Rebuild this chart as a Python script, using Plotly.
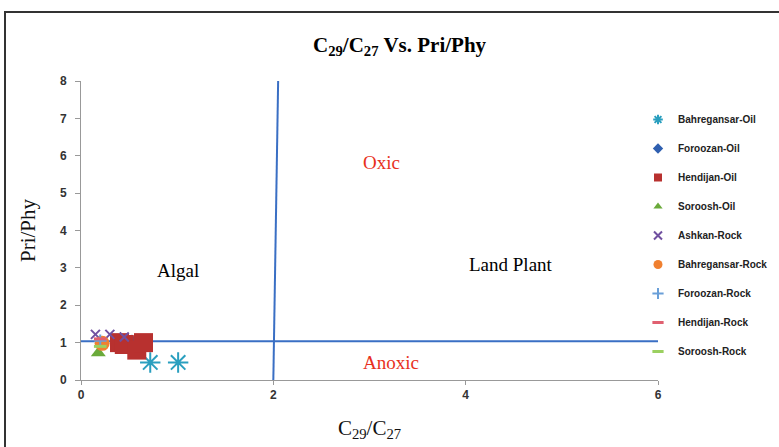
import plotly.graph_objects as go

# Data (C29/C27, Pri/Phy)
series_names = ["Bahregansar-Oil", "Foroozan-Oil", "Hendijan-Oil", "Soroosh-Oil",
                "Ashkan-Rock", "Bahregansar-Rock", "Foroozan-Rock", "Hendijan-Rock", "Soroosh-Rock"]
bahregansar_oil_x = [0.72, 1.01]
bahregansar_oil_y = [0.47, 0.47]
foroozan_oil_x = [0.53]
foroozan_oil_y = [1.08]
hendijan_oil_x = [0.40, 0.45, 0.58, 0.65]
hendijan_oil_y = [1.0, 0.95, 0.8, 1.0]
soroosh_oil_x = [0.18]
soroosh_oil_y = [0.72]
ashkan_rock_x = [0.15, 0.30, 0.45]
ashkan_rock_y = [1.22, 1.22, 1.15]
bahregansar_rock_x = [0.22]
bahregansar_rock_y = [0.98]
foroozan_rock_x = [0.20]
foroozan_rock_y = [1.05]
hendijan_rock_x = [0.20]
hendijan_rock_y = [1.1]
soroosh_rock_x = [0.20]
soroosh_rock_y = [0.9]

# boundary lines
hline_x = [0, 6]
hline_y = [1.04, 1.04]
vline_x = [2.0, 2.05]
vline_y = [0, 8]

xs = [bahregansar_oil_x, foroozan_oil_x, hendijan_oil_x, soroosh_oil_x, ashkan_rock_x,
      bahregansar_rock_x, foroozan_rock_x, hendijan_rock_x, soroosh_rock_x]
ys = [bahregansar_oil_y, foroozan_oil_y, hendijan_oil_y, soroosh_oil_y, ashkan_rock_y,
      bahregansar_rock_y, foroozan_rock_y, hendijan_rock_y, soroosh_rock_y]
symbols = ["asterisk-open", "diamond", "square", "triangle-up", "x-thin-open",
           "circle", "cross-thin-open", "line-ew-open", "line-ew-open"]
colors = ["#2a9fbf", "#2f5fb0", "#b8312f", "#6aaa3a", "#7050a0",
          "#f08030", "#6a9fd8", "#e06070", "#9bd060"]
plot_sizes = [17, 8, 19, 13, 9, 15, 9, 9, 9]
legend_sizes = [8, 8, 8, 8, 8, 9, 8, 8, 8]

fig = go.Figure()
fig.add_trace(go.Scatter(x=hline_x, y=hline_y, mode="lines", line=dict(color="#3a6fc4", width=2),
                         showlegend=False, hoverinfo="skip"))
fig.add_trace(go.Scatter(x=vline_x, y=vline_y, mode="lines", line=dict(color="#3a6fc4", width=2),
                         showlegend=False, hoverinfo="skip"))
for i, (name, x, y) in enumerate(zip(series_names, xs, ys)):
    sym, col = symbols[i], colors[i]
    open_sym = sym.endswith("-open")
    mk = dict(symbol=sym, color=col, size=plot_sizes[i])
    if open_sym:
        mk["line"] = dict(width=2 if "line-ew" not in sym else 3, color=col)
    fig.add_trace(go.Scatter(x=x, y=y, mode="markers", name=name, marker=mk,
                             showlegend=False, legendgroup=f"g{i}"))
    lmk = dict(symbol=sym, color=col, size=legend_sizes[i])
    if open_sym:
        lmk["line"] = dict(width=2 if "line-ew" not in sym else 3, color=col)
    fig.add_trace(go.Scatter(x=[None], y=[None], mode="markers", name=name, marker=lmk,
                             showlegend=True, legendgroup=f"g{i}"))

serif = "Liberation Serif"
ann = [
    dict(x=3.12, y=5.83, text="Oxic", color="#e8301c"),
    dict(x=1.01, y=2.94, text="Algal", color="#000000"),
    dict(x=4.47, y=3.1, text="Land Plant", color="#000000"),
    dict(x=3.22, y=0.48, text="Anoxic", color="#e8301c"),
]
annotations = [dict(x=a["x"], y=a["y"], xref="x", yref="y", text=a["text"], showarrow=False,
                    font=dict(family=serif, size=19, color=a["color"])) for a in ann]
annotations.append(dict(x=(400 - 81) / 577, y=(380 - 46) / 299, xref="paper", yref="paper",
                        xanchor="center", yanchor="middle",
                        text="<b>C<sub>29</sub>/C<sub>27</sub> Vs. Pri/Phy</b>", showarrow=False,
                        font=dict(family=serif, size=21, color="#000")))

fig.update_layout(
    width=779, height=447,
    margin=dict(l=81, r=121, t=81, b=67, autoexpand=False),
    paper_bgcolor="white", plot_bgcolor="white",
    annotations=annotations,
    shapes=[dict(type="rect", xref="paper", yref="paper",
                 x0=(5 - 81) / 577, x1=(800 - 81) / 577,
                 y0=(380 - 470) / 299, y1=(380 - 12) / 299,
                 line=dict(color="#333", width=2))],
    legend=dict(x=(638 - 81) / 577, y=(380 - 105) / 299, xanchor="left", yanchor="top",
                font=dict(family="Liberation Sans", size=10, color="#222", weight="bold"),
                tracegroupgap=10, itemwidth=30, bgcolor="rgba(0,0,0,0)"),
    showlegend=True,
)
tickfont = dict(family="Liberation Sans", size=12, color="#333", weight="bold")
fig.update_xaxes(range=[0, 6], dtick=2, showgrid=False, zeroline=False, showline=True,
                 linecolor="#999", linewidth=1, ticks="outside", tickcolor="#999", ticklen=4,
                 tickfont=tickfont,
                 title=dict(text="C<sub>29</sub>/C<sub>27</sub>", font=dict(family=serif, size=21, color="#111"),
                            standoff=18))
fig.update_yaxes(range=[0, 8], dtick=1, showgrid=False, zeroline=False, showline=True,
                 linecolor="#999", linewidth=1, ticks="outside", tickcolor="#999", ticklen=5,
                 ticklabelstandoff=6, tickfont=tickfont,
                 title=dict(text="Pri/Phy", font=dict(family=serif, size=21, color="#111"), standoff=18))

fig.write_html("out.html")
